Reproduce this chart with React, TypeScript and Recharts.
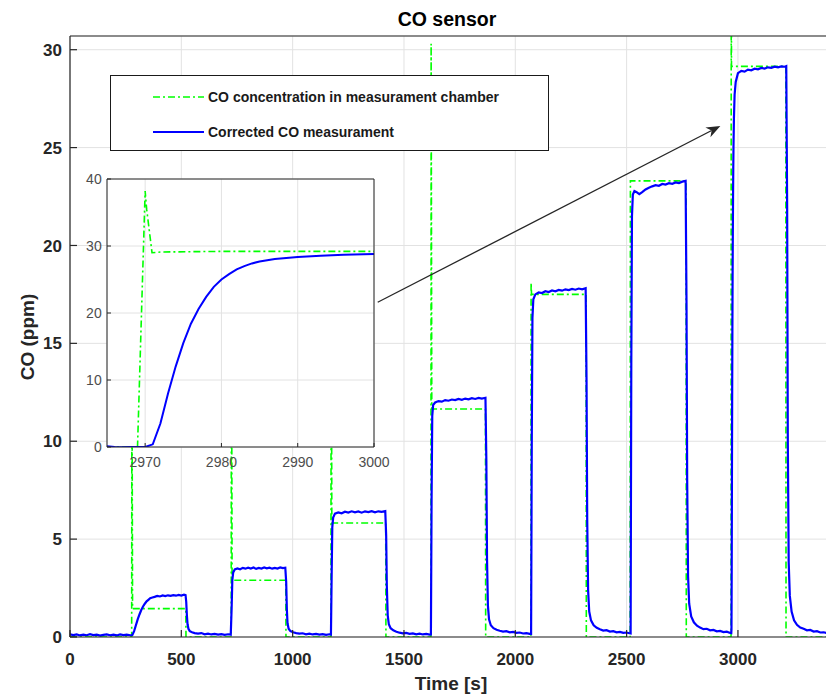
import React from 'react';
import { LineChart, Line, XAxis, YAxis, CartesianGrid, ReferenceLine } from 'recharts';

// chamber concentration (green dash-dot): step profile with spikes at the start of each step
const chamberT = [
  0, 277, 278, 281, 520, 521,
  724, 725, 728, 969, 970,
  1172, 1173, 1176, 1418, 1419,
  1621, 1622, 1625, 1866, 1867,
  2070, 2071, 2073, 2318, 2319,
  2516, 2517, 2767, 2768,
  2969, 2970, 2971, 3215, 3216, 3400,
];
const chamberCO = [
  0, 0, 16, 1.45, 1.45, 0,
  0, 20, 2.9, 2.9, 0,
  0, 22, 5.82, 5.82, 0,
  0, 30.3, 11.65, 11.65, 0,
  0, 18.1, 17.5, 17.5, 0,
  0, 23.3, 23.3, 0,
  0, 38, 29.15, 29.15, 0, 0,
];

// corrected sensor reading (blue)
const sensorT = [
  0, 15, 30, 45, 60, 75, 90, 105, 120, 135, 150, 165, 180, 195, 210, 225, 240, 255, 270, 280,
  288, 296, 304, 312, 320, 328, 336, 344, 352, 360, 370, 380, 392, 404, 416, 428, 440, 452, 464, 476, 488, 500, 512, 519,
  522, 525, 528, 532, 538, 548, 560, 575, 590, 605, 620, 635, 650, 665, 680, 695, 710, 722,
  726, 729, 733, 740, 752, 764, 776, 788, 800, 812, 824, 836, 848, 860, 872, 884, 896, 908, 920, 932, 944, 956, 967,
  971, 974, 977, 982, 990, 1002, 1016, 1030, 1045, 1060, 1075, 1090, 1105, 1120, 1135, 1150, 1165, 1172,
  1175, 1178, 1182, 1190, 1205, 1220, 1235, 1250, 1265, 1280, 1295, 1310, 1325, 1340, 1355, 1370, 1385, 1400, 1416,
  1420, 1423, 1427, 1432, 1440, 1452, 1466, 1480, 1495, 1510, 1525, 1540, 1555, 1570, 1585, 1600, 1615, 1621,
  1624, 1627, 1631, 1640, 1655, 1670, 1685, 1700, 1715, 1730, 1745, 1760, 1775, 1790, 1805, 1820, 1835, 1850, 1866,
  1870, 1873, 1877, 1882, 1890, 1902, 1916, 1930, 1945, 1960, 1975, 1990, 2005, 2020, 2035, 2050, 2065, 2071,
  2074, 2077, 2081, 2090, 2105, 2120, 2135, 2150, 2165, 2180, 2195, 2210, 2225, 2240, 2255, 2270, 2285, 2300, 2316,
  2320, 2323, 2327, 2332, 2340, 2352, 2366, 2380, 2395, 2410, 2425, 2440, 2455, 2470, 2485, 2500, 2512, 2518,
  2521, 2524, 2528, 2535, 2545, 2557, 2570, 2585, 2600, 2615, 2630, 2645, 2660, 2675, 2690, 2705, 2720, 2735, 2750, 2765,
  2769, 2772, 2776, 2781, 2790, 2802, 2816, 2830, 2845, 2860, 2875, 2890, 2905, 2920, 2935, 2950, 2962, 2970,
  2971, 2972, 2973, 2974, 2975, 2976, 2977, 2978, 2979, 2980, 2982, 2985, 2990, 3000,
  3015, 3030, 3045, 3060, 3075, 3090, 3105, 3120, 3135, 3150, 3165, 3180, 3195, 3210, 3217,
  3221, 3224, 3228, 3233, 3241, 3252, 3265, 3280, 3295, 3310, 3325, 3340, 3355, 3370, 3385, 3400,
];
const sensorCO = [
  0.14, 0.1, 0.13, 0.08, 0.12, 0.09, 0.14, 0.1, 0.12, 0.07, 0.11, 0.13, 0.09, 0.12, 0.08, 0.13, 0.1, 0.12, 0.09, 0.1,
  0.3, 0.6, 0.9, 1.15, 1.38, 1.56, 1.7, 1.82, 1.9, 1.98, 2.02, 2.05, 2.1, 2.07, 2.12, 2.09, 2.13, 2.1, 2.14, 2.11, 2.15, 2.12, 2.16, 2.14,
  1.8, 1.1, 0.65, 0.42, 0.3, 0.24, 0.2, 0.17, 0.2, 0.14, 0.17, 0.13, 0.16, 0.12, 0.15, 0.11, 0.14, 0.12,
  1.5, 2.9, 3.3, 3.45, 3.5, 3.46, 3.53, 3.49, 3.54, 3.5, 3.55, 3.48, 3.53, 3.5, 3.55, 3.51, 3.54, 3.49, 3.53, 3.5, 3.55, 3.52, 3.54,
  2.8, 1.4, 0.7, 0.42, 0.3, 0.24, 0.2, 0.17, 0.19, 0.14, 0.17, 0.13, 0.16, 0.12, 0.15, 0.11, 0.14, 0.12,
  3, 5.6, 6.1, 6.3, 6.36, 6.32, 6.4, 6.36, 6.42, 6.37, 6.41, 6.35, 6.42, 6.38, 6.43, 6.37, 6.42, 6.39, 6.43,
  5.2, 2.6, 1.1, 0.65, 0.45, 0.34, 0.27, 0.22, 0.19, 0.21, 0.16, 0.18, 0.14, 0.17, 0.13, 0.16, 0.12, 0.13,
  7, 11.3, 11.85, 11.98, 12.05, 12.02, 12.1, 12.07, 12.13, 12.1, 12.16, 12.12, 12.18, 12.14, 12.2, 12.16, 12.21, 12.18, 12.22,
  9, 4, 1.6, 0.9, 0.6, 0.45, 0.37, 0.32, 0.28, 0.3, 0.24, 0.26, 0.21, 0.23, 0.18, 0.2, 0.16, 0.15,
  10, 16.3, 17.25, 17.5, 17.6, 17.57, 17.66, 17.62, 17.7, 17.66, 17.73, 17.69, 17.76, 17.72, 17.78, 17.74, 17.8, 17.76, 17.82,
  13, 6, 2.4, 1.3, 0.85, 0.6, 0.47, 0.4, 0.33, 0.35, 0.28, 0.3, 0.24, 0.26, 0.21, 0.23, 0.19, 0.18,
  14, 21.5, 22.6, 22.78, 22.72, 22.62, 22.72, 22.86, 22.95, 23.02, 23.08, 23.05, 23.14, 23.11, 23.18, 23.15, 23.22, 23.19, 23.26, 23.3,
  17, 8, 3.1, 1.7, 1.05, 0.75, 0.58, 0.48, 0.4, 0.42, 0.34, 0.36, 0.29, 0.31, 0.25, 0.27, 0.22, 0.2,
  0.4, 3.5, 8, 12, 15.5, 18.4, 20.6, 22.4, 23.9, 25, 26.5, 27.7, 28.35, 28.8,
  28.92, 28.88, 28.98, 28.95, 29.03, 29.0, 29.07, 29.04, 29.1, 29.07, 29.13, 29.1, 29.15, 29.13, 29.16,
  22, 10, 3.8, 2.1, 1.3, 0.85, 0.62, 0.48, 0.42, 0.34, 0.36, 0.28, 0.3, 0.23, 0.24, 0.2,
];

// zoomed detail of the last step
const insetChamberT = [2965, 2969, 2970, 2970.2, 2970.9, 2972, 2980, 3000];
const insetChamberCO = [0, 0, 38.2, 35.5, 29, 29.1, 29.2, 29.2];
const insetSensorT = [
  2965, 2966, 2967, 2968, 2969, 2970, 2971, 2972, 2973, 2974, 2975, 2976, 2977, 2978, 2979, 2980,
  2981, 2982, 2983, 2984, 2985, 2987, 2990, 2993, 2996, 3000,
];
const insetSensorCO = [
  0.1, 0, -0.05, 0, 0, 0, 0.4, 3.5, 8, 12, 15.5, 18.4, 20.6, 22.4, 23.9, 25,
  25.8, 26.5, 27, 27.4, 27.7, 28.05, 28.35, 28.55, 28.7, 28.8,
];

const MAIN_X_TICKS = [0, 500, 1000, 1500, 2000, 2500, 3000];
const MAIN_Y_TICKS = [0, 5, 10, 15, 20, 25, 30];
const INSET_X_TICKS = [2970, 2980, 2990, 3000];
const INSET_Y_TICKS = [0, 10, 20, 30, 40];

const ARROW_FROM = { x: 1382, y: 17.1 };
const ARROW_TO = { x: 2921, y: 26.1 };

const FONT = '"Liberation Sans", Arial, Helvetica, sans-serif';
const AXIS = '#262626';
const GRID = '#e2e2e2';
const GREEN = '#00ff00';
const BLUE = '#0000ff';
const DASHDOT = '7 3 2 3';

const zip = (t: number[], v: number[]) => t.map((x, i) => ({ t: x, co: v[i] }));

const chamber = zip(chamberT, chamberCO);
const sensor = zip(sensorT, sensorCO);
const insetChamber = zip(insetChamberT, insetChamberCO);
const insetSensor = zip(insetSensorT, insetSensorCO);

// line with a filled arrow head at the end
const Arrow = (props: any) => {
  const { x1, y1, x2, y2 } = props;
  const a = Math.atan2(y2 - y1, x2 - x1);
  const c = Math.cos(a), s = Math.sin(a);
  const L = 14, W = 5.5;
  const bx = x2 - L * c, by = y2 - L * s;
  const nx = x2 - L * 0.7 * c, ny = y2 - L * 0.7 * s;
  const pts = [
    [x2, y2], [bx - W * s, by + W * c], [nx, ny], [bx + W * s, by - W * c],
  ].map(p => p.join(',')).join(' ');
  return (
    <g>
      <line x1={x1} y1={y1} x2={nx} y2={ny} stroke={AXIS} strokeWidth={1.3}/>
      <polygon points={pts} fill={AXIS}/>
    </g>
  );
};

const mainTick = { fill: AXIS, fontSize: 17, fontWeight: 'bold', fontFamily: FONT };
const insetTick = { fill: '#4d4d4d', fontSize: 14, fontFamily: FONT };

export default function App() {
  return (
    <div style={{ position: 'absolute', left: 0, top: 0, width: 826, height: 698, overflow: 'hidden', background: '#fff' }}>
      <div style={{ position: 'absolute', left: 0, top: 0 }}>
        <LineChart width={828} height={698} margin={{ top: 35, right: 0, bottom: 31, left: 0 }}>
          <CartesianGrid stroke={GRID} strokeWidth={1}/>
          <XAxis dataKey="t" type="number" domain={[0, 3400]} ticks={MAIN_X_TICKS} interval={0}
            allowDataOverflow height={30} tickSize={-7} tickMargin={22.6}
            stroke={AXIS} strokeWidth={1.2} tick={mainTick}/>
          <XAxis xAxisId="top" orientation="top" dataKey="t" type="number" domain={[0, 3400]}
            ticks={MAIN_X_TICKS} interval={0} allowDataOverflow height={1} tickSize={-7}
            tick={false} stroke={AXIS} strokeWidth={1.2}/>
          <YAxis type="number" domain={[0, 30.7]} ticks={MAIN_Y_TICKS} interval={0} allowDataOverflow
            width={70} tickSize={-7} tickMargin={15} stroke={AXIS} strokeWidth={1.2} tick={mainTick}/>
          <YAxis yAxisId="right" orientation="right" type="number" domain={[0, 30.7]} ticks={MAIN_Y_TICKS}
            interval={0} allowDataOverflow width={1} tickSize={-7} tick={false} stroke={AXIS} strokeWidth={1.2}/>
          <Line data={chamber} dataKey="co" stroke={GREEN} strokeWidth={1.6} strokeDasharray={DASHDOT}
            dot={false} activeDot={false} isAnimationActive={false} type="linear"/>
          <Line data={sensor} dataKey="co" stroke={BLUE} strokeWidth={2.2} dot={false} activeDot={false}
            isAnimationActive={false} type="linear"/>
          <ReferenceLine segment={[ARROW_FROM, ARROW_TO]} shape={Arrow}/>
        </LineChart>
      </div>

      <svg width={826} height={698} style={{ position: 'absolute', left: 0, top: 0, pointerEvents: 'none' }}>
        <text x={447} y={26} textAnchor="middle" fontFamily={FONT} fontWeight="bold" fontSize={19.5} fill="#000">CO sensor</text>
        <text x={451} y={690} textAnchor="middle" fontFamily={FONT} fontWeight="bold" fontSize={19} fill={AXIS}>Time [s]</text>
        <text transform="translate(34,337) rotate(-90)" textAnchor="middle" fontFamily={FONT} fontWeight="bold"
          fontSize={19} fill={AXIS}>CO (ppm)</text>
      </svg>

      {/* legend box */}
      <div style={{
        position: 'absolute', left: 110, top: 75, width: 437, height: 74, border: '1.3px solid #1a1a1a',
        background: '#fff',
      }}>
        <svg width={437} height={74} style={{ position: 'absolute', left: 0, top: 0 }}>
          <line x1={42} x2={93} y1={21} y2={21} stroke={GREEN} strokeWidth={1.6} strokeDasharray={DASHDOT}/>
          <line x1={42} x2={93} y1={56} y2={56} stroke={BLUE} strokeWidth={2}/>
          <text x={97} y={26} fontFamily={FONT} fontWeight="bold" fontSize={14} fill="#1a1a1a">CO concentration in measurament chamber</text>
          <text x={97} y={61} fontFamily={FONT} fontWeight="bold" fontSize={14} fill="#1a1a1a">Corrected CO measurament</text>
        </svg>
      </div>

      {/* inset */}
      <div style={{ position: 'absolute', left: 107, top: 179, width: 267, height: 268, background: '#fff' }}/>
      <div style={{ position: 'absolute', left: 57, top: 169 }}>
        <LineChart width={333} height={311} margin={{ top: 9, right: 15, bottom: 5, left: 0 }}>
          <CartesianGrid stroke={GRID} strokeWidth={1}/>
          <XAxis dataKey="t" type="number" domain={[2965, 3000]} ticks={INSET_X_TICKS} interval={0}
            allowDataOverflow height={28} tickSize={-4} tickMargin={13.8} stroke={AXIS} tick={insetTick}/>
          <XAxis xAxisId="top" orientation="top" dataKey="t" type="number" domain={[2965, 3000]}
            ticks={INSET_X_TICKS} interval={0} allowDataOverflow height={1} tickSize={-4} tick={false} stroke={AXIS}/>
          <YAxis type="number" domain={[0, 40]} ticks={INSET_Y_TICKS} interval={0} allowDataOverflow
            width={50} tickSize={-4} tickMargin={9.3} stroke={AXIS} tick={insetTick}/>
          <YAxis yAxisId="right" orientation="right" type="number" domain={[0, 40]} ticks={INSET_Y_TICKS}
            interval={0} allowDataOverflow width={1} tickSize={-4} tick={false} stroke={AXIS}/>
          <Line data={insetChamber} dataKey="co" stroke={GREEN} strokeWidth={1.6} strokeDasharray={DASHDOT}
            dot={false} activeDot={false} isAnimationActive={false} type="linear"/>
          <Line data={insetSensor} dataKey="co" stroke={BLUE} strokeWidth={2} dot={false} activeDot={false}
            isAnimationActive={false} type="linear"/>
        </LineChart>
      </div>
    </div>
  );
}
